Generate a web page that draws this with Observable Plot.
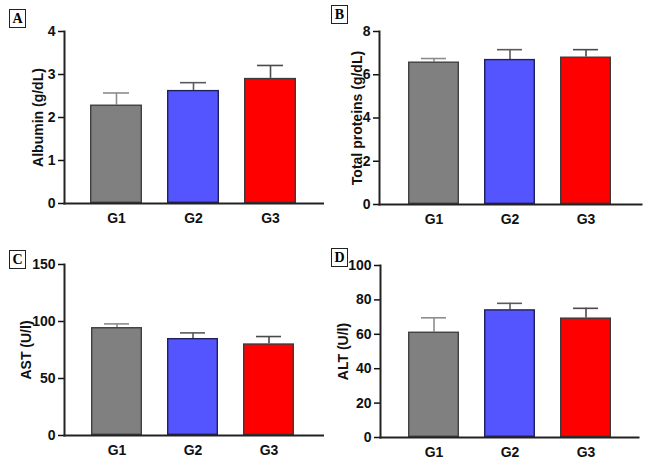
<!DOCTYPE html>
<html>
<head>
<meta charset="utf-8">
<script src="https://cdn.jsdelivr.net/npm/d3@7"></script>
<script src="https://cdn.jsdelivr.net/npm/@observablehq/plot@0.6"></script>
<style>
  body { margin: 0; background: #fff; }
  #wrap { position: relative; width: 649px; height: 465px; overflow: hidden; }
  .panel { position: absolute; width: 324px; height: 232px; }
  .tag {
    position: absolute; font-family: "Liberation Serif", "DejaVu Serif", serif;
    font-weight: bold; font-size: 14px; line-height: 17px; text-align: center;
    border: 1.5px solid #222; width: 15px; height: 17px; background: #fff; z-index: 2;
  }
</style>
</head>
<body>
<div id="wrap"></div>
<script>
var groups = ['G1', 'G2', 'G3'];
var fills = ['#808080', '#5555ff', '#ff0000'];
var strokes = ['#404040', '#20205a', '#3a3a3a'];
var errColors = ['#8c8c8c', '#5a5a5a', '#4a4a4a'];

var albumin = [2.29, 2.63, 2.91];
var albuminSd = [0.28, 0.18, 0.30];
var protein = [6.59, 6.71, 6.82];
var proteinSd = [0.16, 0.45, 0.34];
var ast = [94.7, 85.1, 80.4];
var astSd = [3.2, 4.9, 6.4];
var alt = [61.3, 74.3, 69.5];
var altSd = [8.3, 3.7, 5.6];

var panels = [
  { tag: 'A', label: 'Albumin (g/dL)', vals: albumin, sd: albuminSd, max: 4, ticks: [0, 1, 2, 3, 4],
    left: 0, top: 0, ml: 64, mt: 31, mb: 29, x0: 89, x1: 296, xr: 324, lo: 31, tagX: 9, tagY: 9 },
  { tag: 'B', label: 'Total proteins (g/dL)', vals: protein, sd: proteinSd, max: 8, ticks: [0, 2, 4, 6, 8],
    left: 325, top: 0, ml: 54, mt: 31, mb: 28, x0: 82, x1: 288, xr: 316, lo: 27, tagX: 331, tagY: 5 },
  { tag: 'C', label: 'AST (U/l)', vals: ast, sd: astSd, max: 150, ticks: [0, 50, 100, 150],
    left: 0, top: 233, ml: 64, mt: 31, mb: 30, x0: 90, x1: 296, xr: 323, lo: 43, tagX: 9, tagY: 250 },
  { tag: 'D', label: 'ALT (U/l)', vals: alt, sd: altSd, max: 100, ticks: [0, 20, 40, 60, 80, 100],
    left: 325, top: 233, ml: 55, mt: 32, mb: 28, x0: 82, x1: 288, xr: 313, lo: 42, tagX: 331, tagY: 248 }
];

var wrap = document.getElementById('wrap');

panels.forEach(function (p) {
  var rows = groups.map(function (g, i) {
    return { group: g, value: p.vals[i], top: p.vals[i] + p.sd[i], i: i };
  });
  var W = 324, H = 232;
  var chart = Plot.plot({
    width: W,
    height: H,
    marginLeft: p.ml,
    marginTop: p.mt,
    marginBottom: p.mb,
    marginRight: W - p.xr,
    style: { fontFamily: '"Liberation Sans", Arial, sans-serif', fontWeight: 'bold', fontSize: '14px', color: '#111' },
    x: { domain: groups, range: [p.x0 - 25, p.x1 + 25], padding: 0.325, axis: null },
    y: { domain: [0, p.max], axis: null },
    marks: [
      Plot.ruleX(rows, { x: 'group', y1: 'value', y2: 'top', stroke: function (d) { return errColors[d.i]; }, strokeWidth: 1.6 }),
      Plot.tickY(rows, { x: 'group', y: 'top', stroke: function (d) { return errColors[d.i]; }, strokeWidth: 1.6, insetLeft: 13, insetRight: 13 }),
      Plot.barY(rows, {
        x: 'group', y: 'value',
        fill: function (d) { return fills[d.i]; },
        stroke: function (d) { return strokes[d.i]; },
        strokeWidth: 1.4, inset: 0.7
      }),
      Plot.axisX({ tickSize: 0, tickPadding: 10, label: null, fontWeight: 'bold', fontSize: 14 }),
      Plot.axisY({
        ticks: p.ticks, tickSize: 6, tickPadding: 3, strokeWidth: 1.5, fontSize: 14, fontWeight: 'bold',
        label: p.label, labelAnchor: 'center', labelArrow: 'none', labelOffset: p.lo,
        tickFormat: function (d) { return String(d); }
      }),
      Plot.frame({ anchor: 'left', stroke: '#222', strokeWidth: 2 }),
      Plot.frame({ anchor: 'bottom', stroke: '#222', strokeWidth: 2 })
    ]
  });
  var div = document.createElement('div');
  div.className = 'panel';
  div.style.left = p.left + 'px';
  div.style.top = p.top + 'px';
  div.appendChild(chart);
  wrap.appendChild(div);

  var tag = document.createElement('div');
  tag.className = 'tag';
  tag.textContent = p.tag;
  tag.style.left = p.tagX + 'px';
  tag.style.top = p.tagY + 'px';
  wrap.appendChild(tag);
});
</script>
</body>
</html>
